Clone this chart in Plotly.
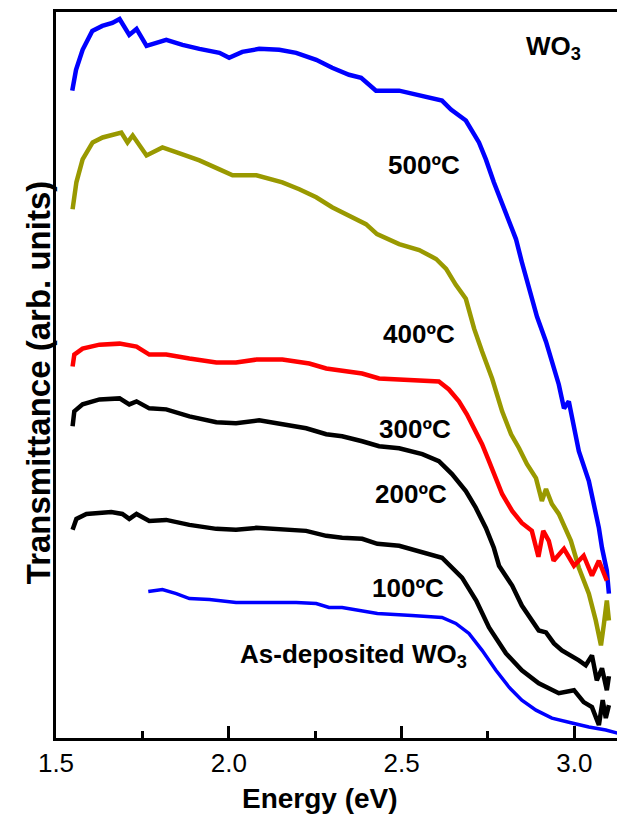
import plotly.graph_objects as go

# ---- data (energy in eV, transmittance in arbitrary units) ----
e_500 = [1.547,1.558,1.577,1.605,1.634,1.663,1.684,1.712,1.733,1.762,1.819,1.866,1.915,1.973,2.001,2.039,2.088,2.146,2.195,2.253,2.299,2.348,2.383,2.426,2.493,2.551,2.617,2.643,2.686,2.724,2.744,2.767,2.796,2.831,2.848,2.868,2.892,2.918,2.955,2.970,2.984,3.013,3.042,3.071,3.080,3.094,3.100]
t_500 = [650,671,691,710,715,718,722,706,712,695,701,696,692,688,683,689,692,691,688,681,673,666,663,650,650,645,640,631,620,598,581,558,531,501,478,451,423,398,355,331,338,288,258,211,191,168,145]

e_400 = [1.548,1.559,1.577,1.606,1.635,1.663,1.689,1.707,1.722,1.762,1.808,1.866,1.915,1.973,2.011,2.080,2.155,2.204,2.253,2.299,2.348,2.397,2.429,2.493,2.551,2.600,2.629,2.657,2.686,2.710,2.733,2.762,2.791,2.817,2.840,2.863,2.889,2.906,2.918,2.935,2.955,2.975,2.990,3.013,3.042,3.062,3.077,3.085,3.094,3.100]
t_400 = [531,558,581,598,603,606,608,598,605,585,593,586,580,571,565,565,558,551,543,533,525,516,506,496,490,481,471,455,441,411,388,361,328,305,291,275,261,238,250,235,225,211,198,171,145,118,93,113,138,118]

e_300 = [1.548,1.553,1.577,1.626,1.684,1.733,1.770,1.819,1.886,1.964,2.021,2.080,2.155,2.233,2.282,2.340,2.386,2.435,2.493,2.560,2.608,2.637,2.666,2.689,2.715,2.733,2.753,2.773,2.791,2.820,2.848,2.877,2.896,2.910,2.926,2.940,2.970,2.999,3.027,3.051,3.071,3.094]
t_300 = [373,385,391,395,396,393,385,385,381,377,377,380,380,376,371,368,366,361,360,358,358,350,338,325,308,295,278,261,245,228,216,208,182,208,198,178,190,173,183,163,178,158]

e_200 = [1.548,1.553,1.577,1.626,1.684,1.712,1.733,1.770,1.819,1.886,1.964,2.021,2.088,2.155,2.224,2.282,2.328,2.386,2.435,2.493,2.560,2.608,2.646,2.686,2.715,2.744,2.767,2.782,2.820,2.848,2.877,2.897,2.918,2.941,2.964,2.990,3.013,3.033,3.051,3.065,3.080,3.094,3.100]
t_200 = [313,328,335,340,341,335,338,331,330,323,317,316,319,315,311,305,303,298,293,291,285,278,265,248,231,211,191,173,153,133,118,108,106,95,88,83,78,73,83,58,70,48,62]

e_100 = [1.548,1.559,1.588,1.626,1.660,1.692,1.712,1.733,1.770,1.819,1.886,1.964,2.021,2.080,2.155,2.224,2.282,2.328,2.386,2.430,2.493,2.542,2.617,2.675,2.716,2.753,2.802,2.848,2.897,2.955,2.999,3.027,3.051,3.071,3.082,3.091,3.100]
t_100 = [209,220,225,226,227,225,220,225,218,219,214,210,209,211,210,208,203,201,200,195,193,188,181,161,138,111,85,68,55,45,48,36,31,13,38,20,33]

e_asdep = [1.767,1.808,1.848,1.886,1.944,2.021,2.097,2.195,2.253,2.290,2.328,2.386,2.430,2.530,2.617,2.657,2.695,2.733,2.773,2.811,2.848,2.889,2.935,2.993,3.042,3.091,3.135]
t_asdep = [147,149,145,140,139,136,136,136,135,131,131,128,125,123,121,115,105,88,68,51,38,28,20,15,11,8,4]

x_tickvals = [1.5, 2.0, 2.5, 3.0]
x_ticktext = ["1.5", "2.0", "2.5", "3.0"]

series = [
    ("500ºC", e_500, t_500, "#0000ff", 4.5),
    ("400ºC", e_400, t_400, "#999900", 4.5),
    ("300ºC", e_300, t_300, "#ff0000", 4.5),
    ("200ºC", e_200, t_200, "#000000", 4.5),
    ("100ºC", e_100, t_100, "#000000", 4.5),
    ("As-deposited", e_asdep, t_asdep, "#0000ff", 3.5),
]

FONT = "Liberation Sans, Arial, Helvetica, sans-serif"

fig = go.Figure()
for name, xs, ys, col, w in series:
    fig.add_trace(go.Scatter(x=xs, y=ys, mode="lines", name=name,
                             line=dict(color=col, width=w),
                             showlegend=False))

labels = [
    ("WO<sub>3</sub>", 2.941, 693),
    ("500ºC", 2.565, 575),
    ("400ºC", 2.551, 406),
    ("300ºC", 2.540, 310),
    ("200ºC", 2.528, 245),
    ("100ºC", 2.519, 151),
    ("As-deposited WO<sub>3</sub>", 2.360, 83),
]
for txt, lx, ly in labels:
    fig.add_annotation(x=lx, y=ly, xref="x", yref="y", text=txt,
                       showarrow=False, xanchor="center", yanchor="middle",
                       font=dict(family=FONT, size=26, color="black", weight="bold"))

# axis titles
fig.add_annotation(x=0.467, y=-0.083, xref="paper", yref="paper",
                   text="Energy (eV)", showarrow=False,
                   xanchor="center", yanchor="middle",
                   font=dict(family=FONT, size=28, color="black", weight="bold"))
fig.add_annotation(x=-0.032, y=0.49, xref="paper", yref="paper",
                   text="Transmittance (arb. units)", showarrow=False,
                   textangle=-90, xanchor="center", yanchor="middle",
                   font=dict(family=FONT, size=33, color="black", weight="bold"))

# the page body adds an 8px offset, so the figure is 8px smaller each way
fig.update_layout(
    width=617, height=808,
    margin=dict(l=48, r=2, t=1, b=78),
    paper_bgcolor="white", plot_bgcolor="white",
    showlegend=False,
)
fig.update_xaxes(range=[1.5, 3.135], tickvals=x_tickvals, ticktext=x_ticktext,
                 ticks="inside", ticklen=12, tickwidth=2.5, tickcolor="black",
                 showline=True, linecolor="black", linewidth=3, mirror=True,
                 showgrid=False, zeroline=False,
                 tickfont=dict(family=FONT, size=26, color="black"),
                 minor=dict(dtick=0.25, tick0=1.5, ticks="inside", ticklen=7,
                            tickwidth=2.5, tickcolor="black", showgrid=False))
fig.update_yaxes(range=[0, 729], showticklabels=False, ticks="",
                 showline=True, linecolor="black", linewidth=3, mirror=True,
                 showgrid=False, zeroline=False)

fig.write_html("out.html")
